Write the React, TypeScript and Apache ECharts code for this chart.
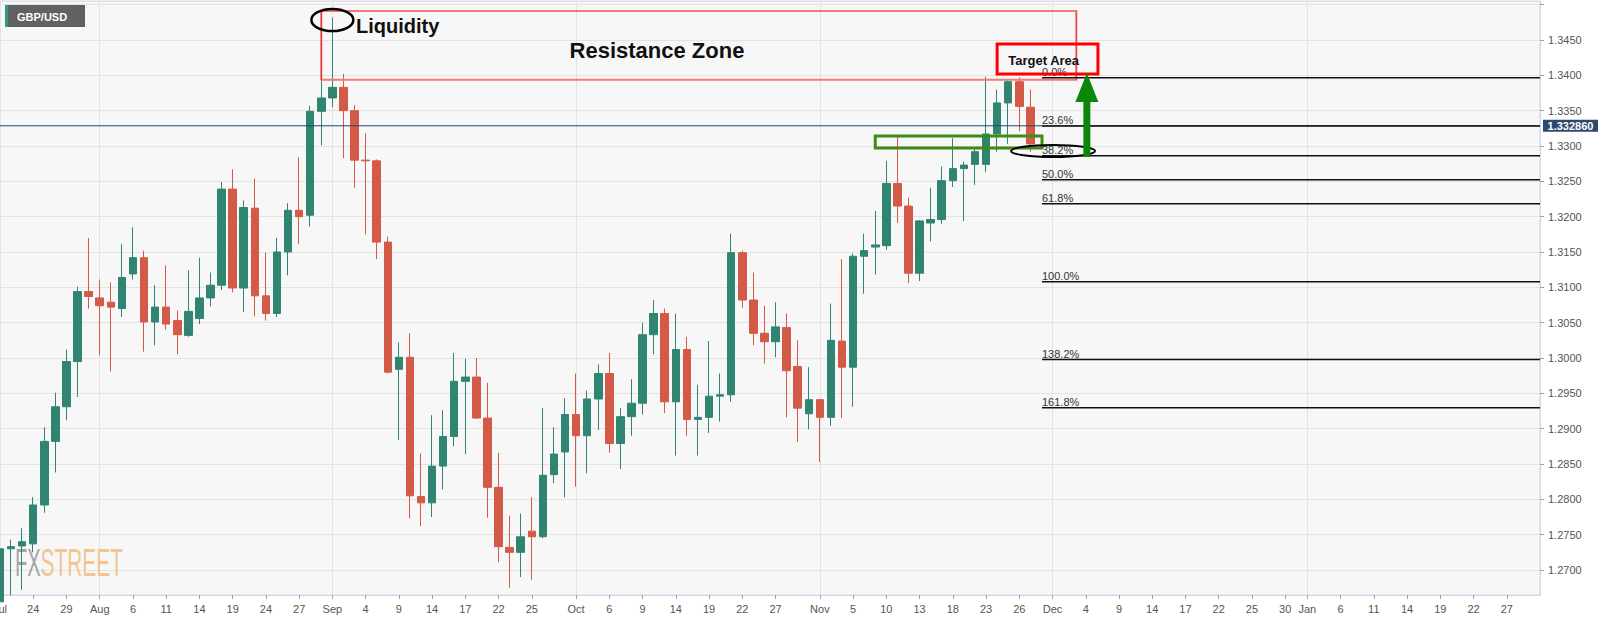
import React, { useEffect, useRef } from "react";
import * as echarts from "echarts";

// ---------- DATA ----------
const START_DATE = "2020-07-21";
const CATEGORY_COUNT = 140;

function businessDays(start: string, n: number): string[] {
  const out: string[] = [];
  const d = new Date(start + "T00:00:00Z");
  while (out.length < n) {
    const wd = d.getUTCDay();
    if (wd !== 0 && wd !== 6) out.push(d.toISOString().slice(0, 10));
    d.setUTCDate(d.getUTCDate() + 1);
  }
  return out;
}
const dates = businessDays(START_DATE, CATEGORY_COUNT);

// OHLC, Jul 21 .. Nov 27 2020 (94 daily candles)
const opens = [
  1.2655, 1.273, 1.2734, 1.2737, 1.2792, 1.2882, 1.2931, 1.2995, 1.3094, 1.3085,
  1.3079, 1.307, 1.3119, 1.3142, 1.3051, 1.3072, 1.3053, 1.3032, 1.3056, 1.3085,
  1.3103, 1.3239, 1.3099, 1.3212, 1.3088, 1.3063, 1.315, 1.3209, 1.3202, 1.3349,
  1.3368, 1.3383, 1.335, 1.328, 1.3279, 1.3164, 1.2984, 1.3001, 1.2804, 1.2795,
  1.2847, 1.2889, 1.2967, 1.2973, 1.2915, 1.2817, 1.2732, 1.2725, 1.2755, 1.2747,
  1.2835, 1.2867, 1.292, 1.289, 1.2942, 1.2978, 1.2879, 1.2917, 1.2936, 1.3033,
  1.3063, 1.2938, 1.3012, 1.2913, 1.2916, 1.2946, 1.2948, 1.3149, 1.3082, 1.3035,
  1.3023, 1.3043, 1.2988, 1.2921, 1.2941, 1.2916, 1.3024, 1.2987, 1.3144, 1.3157,
  1.3159, 1.3247, 1.3215, 1.312, 1.3191, 1.3196, 1.3251, 1.3268, 1.3274, 1.3274,
  1.3317, 1.3361, 1.3391, 1.3355,
];
const closes = [
  1.273, 1.2733, 1.274, 1.2792, 1.2882, 1.2931, 1.2995, 1.3094, 1.3087, 1.3074,
  1.3072, 1.3114, 1.3142, 1.3051, 1.3072, 1.3048, 1.3033, 1.3066, 1.3085, 1.3103,
  1.3239, 1.3099, 1.3213, 1.3088, 1.3063, 1.315, 1.3209, 1.32, 1.3349, 1.3368,
  1.3383, 1.335, 1.328, 1.3279, 1.3164, 1.298, 1.3001, 1.2805, 1.2795, 1.2847,
  1.2889, 1.2967, 1.2973, 1.2915, 1.2817, 1.2733, 1.2725, 1.2747, 1.2747, 1.2834,
  1.2864, 1.292, 1.289, 1.2942, 1.2978, 1.2879, 1.2917, 1.2936, 1.3033, 1.3063,
  1.2938, 1.3012, 1.2913, 1.2916, 1.2946, 1.2948, 1.3149, 1.3082, 1.3035, 1.3023,
  1.3044, 1.2982, 1.2929, 1.2941, 1.2916, 1.3025, 1.2987, 1.3144, 1.3152, 1.316,
  1.3247, 1.3215, 1.312, 1.3194, 1.3196, 1.3251, 1.3268, 1.3273, 1.3292, 1.3317,
  1.3361, 1.3391, 1.3356, 1.3303,
];
const lows = [
  1.264, 1.2664, 1.2672, 1.2725, 1.2781, 1.2838, 1.2912, 1.2945, 1.307, 1.3004,
  1.2981, 1.3058, 1.3111, 1.3009, 1.3018, 1.304, 1.3005, 1.303, 1.3048, 1.3073,
  1.3096, 1.3093, 1.3065, 1.3059, 1.3053, 1.3058, 1.3117, 1.3161, 1.3186, 1.3301,
  1.3355, 1.3283, 1.3241, 1.3175, 1.314, 1.2978, 1.2884, 1.2773, 1.2762, 1.2775,
  1.2814, 1.2875, 1.2864, 1.2914, 1.2774, 1.2711, 1.2675, 1.269, 1.2686, 1.2745,
  1.2823, 1.2803, 1.2818, 1.2837, 1.2898, 1.2866, 1.2843, 1.289, 1.292, 1.3005,
  1.2922, 1.2862, 1.289, 1.2862, 1.2894, 1.291, 1.2938, 1.3071, 1.3018, 1.2992,
  1.3001, 1.2916, 1.2881, 1.2899, 1.2853, 1.2904, 1.2915, 1.2931, 1.3091, 1.3118,
  1.3153, 1.3191, 1.3106, 1.3109, 1.3165, 1.319, 1.3242, 1.3194, 1.3245, 1.3263,
  1.3292, 1.3303, 1.3321, 1.3292,
];
const highs = [
  1.2767, 1.2743, 1.2759, 1.2803, 1.2902, 1.2951, 1.3012, 1.3101, 1.317, 1.3111,
  1.3107, 1.3161, 1.3185, 1.3152, 1.3103, 1.3131, 1.3067, 1.3124, 1.3142, 1.3121,
  1.3249, 1.3267, 1.3223, 1.3254, 1.3149, 1.317, 1.3219, 1.3284, 1.3357, 1.3393,
  1.3482, 1.3402, 1.3358, 1.3318, 1.3281, 1.3172, 1.3022, 1.3035, 1.2865, 1.2919,
  1.2926, 1.3007, 1.2999, 1.3, 1.2965, 1.2866, 1.2777, 1.278, 1.2803, 1.2929,
  1.2902, 1.2943, 1.2978, 1.2954, 1.2991, 1.3007, 1.2929, 1.297, 1.305, 1.3082,
  1.307, 1.3063, 1.303, 1.2962, 1.3024, 1.2978, 1.3176, 1.3152, 1.3121, 1.3074,
  1.3079, 1.3063, 1.3025, 1.2987, 1.2942, 1.3077, 1.314, 1.3148, 1.3176, 1.3208,
  1.3279, 1.3314, 1.3227, 1.3195, 1.3241, 1.3271, 1.3311, 1.3278, 1.3297, 1.3398,
  1.338, 1.3393, 1.3397, 1.338,
];

const tickDates = [
  "2020-07-21", "2020-07-24", "2020-07-29",
  "2020-08-03", "2020-08-06", "2020-08-11", "2020-08-14", "2020-08-19", "2020-08-24", "2020-08-27",
  "2020-09-01", "2020-09-04", "2020-09-09", "2020-09-14", "2020-09-17", "2020-09-22", "2020-09-25",
  "2020-10-01", "2020-10-06", "2020-10-09", "2020-10-14", "2020-10-19", "2020-10-22", "2020-10-27",
  "2020-11-02", "2020-11-05", "2020-11-10", "2020-11-13", "2020-11-18", "2020-11-23", "2020-11-26",
  "2020-12-01", "2020-12-04", "2020-12-09", "2020-12-14", "2020-12-17", "2020-12-22", "2020-12-25", "2020-12-30",
  "2021-01-01", "2021-01-06", "2021-01-11", "2021-01-14", "2021-01-19", "2021-01-22", "2021-01-27",
];
const monthLabelDates = ["2020-07-21", "2020-08-03", "2020-09-01", "2020-10-01", "2020-11-02", "2020-12-01", "2021-01-01"];
const monthLabelNames = ["Jul", "Aug", "Sep", "Oct", "Nov", "Dec", "Jan"];
const monthGridDates = ["2020-08-03", "2020-09-01", "2020-10-01", "2020-11-02", "2020-12-01", "2021-01-01"];

const LAST_PRICE = 1.33286;
const LAST_PRICE_LABEL = "1.332860";
const Y_MIN = 1.266462;
const Y_MAX = 1.350519;
const Y_LABEL_TOP = 1.345;

const FIB_HIGH = 1.33965;
const FIB_LOW = 1.3108;
const fibRatios = [0, 0.236, 0.382, 0.5, 0.618, 1, 1.382, 1.618];
const fibLabels = ["0.0%", "23.6%", "38.2%", "50.0%", "61.8%", "100.0%", "138.2%", "161.8%"];

// ---------- COMPONENT ----------
export default function App() {
  const ref = useRef<HTMLDivElement>(null);

  useEffect(() => {
    document.body.style.margin = "0";
    const el = ref.current!;
    const chart = echarts.init(el, null, { renderer: "svg" });

    const UP = "#2f8572";
    const DOWN = "#d45a48";
    const FONT = "'Liberation Sans', Arial, Helvetica, sans-serif";
    const tickSet = new Set(tickDates.map((d) => dates.indexOf(d)));
    const gridSet = new Set(monthGridDates.map((d) => dates.indexOf(d)));
    const monthMap = new Map(monthLabelDates.map((d, i) => [d, monthLabelNames[i]]));

    const ohlc = opens.map((o, i) => [o, closes[i], lows[i], highs[i]]);

    chart.setOption({
      animation: false,
      backgroundColor: "#ffffff",
      textStyle: { fontFamily: FONT },
      grid: {
        left: 0,
        right: 71,
        top: 1,
        bottom: 26,
        show: true,
        backgroundColor: "#f7f7f7",
        borderColor: "#d3d8e8",
        borderWidth: 1,
        containLabel: false,
        outerBoundsMode: "none",
      },
      xAxis: {
        type: "category",
        data: dates,
        boundaryGap: false,
        axisLine: { show: true, lineStyle: { color: "#d3d8e8", width: 1 } },
        axisTick: {
          show: true,
          length: 4,
          interval: (i: number) => tickSet.has(i),
          lineStyle: { color: "#9aa0b0" },
        },
        axisLabel: {
          show: true,
          interval: (i: number) => tickSet.has(i),
          formatter: (v: string) => monthMap.get(v) ?? String(Number(v.slice(8))),
          color: "#555",
          fontSize: 11,
          margin: 8,
          fontFamily: FONT,
        },
        splitLine: {
          show: true,
          interval: (i: number) => gridSet.has(i),
          lineStyle: { color: "#e3e3e3", width: 1 },
        },
      },
      yAxis: {
        type: "value",
        position: "right",
        min: Y_MIN,
        max: Y_MAX,
        splitNumber: 17,
        minInterval: 0.005,
        maxInterval: 0.005,
        scale: true,
        axisLine: { show: true, lineStyle: { color: "#d3d8e8" } },
        axisTick: { show: true, length: 4, lineStyle: { color: "#9aa0b0" } },
        axisLabel: {
          color: "#555",
          fontSize: 11,
          margin: 8,
          showMinLabel: false,
          showMaxLabel: false,
          formatter: (v: number) => (v > Y_LABEL_TOP + 0.001 ? "" : v.toFixed(4)),
          fontFamily: FONT,
        },
        splitLine: { show: true, lineStyle: { color: "#e3e3e3", width: 1 } },
      },
      series: [
        {
          type: "candlestick",
          data: ohlc,
          barWidth: 8,
          itemStyle: {
            color: UP,
            color0: DOWN,
            borderColor: UP,
            borderColor0: DOWN,
            borderWidth: 1,
          },
          emphasis: { disabled: true },
        },
      ],
    });

    const toPx = (xi: number, v: number): number[] => {
      const i0 = Math.floor(xi);
      const f = xi - i0;
      const a = chart.convertToPixel({ gridIndex: 0 }, [i0, v]) as number[];
      const b = chart.convertToPixel({ gridIndex: 0 }, [i0 + 1, v]) as number[];
      return [a[0] + (b[0] - a[0]) * f, a[1]];
    };

    const g: any[] = [];

    // watermark
    g.push({
      type: "text", x: 15, y: 562, scaleX: 0.53, z: 1,
      style: { text: "FX", fill: "#9a9a9a", fontSize: 38, fontFamily: FONT, align: "left", verticalAlign: "middle", opacity: 0.9 },
    });
    g.push({
      type: "text", x: 40.5, y: 562, scaleX: 0.55, z: 1,
      style: { text: "STREET", fill: "#f2c28c", fontSize: 38, fontFamily: FONT, align: "left", verticalAlign: "middle", opacity: 0.95 },
    });

    // symbol badge
    g.push({ type: "rect", shape: { x: 5, y: 5, width: 80, height: 22 }, style: { fill: "#616161" }, z: 10 });
    g.push({ type: "rect", shape: { x: 5, y: 5, width: 3, height: 22 }, style: { fill: "#2b9a82" }, z: 11 });
    g.push({
      type: "text", x: 17, y: 16.5, z: 11,
      style: { text: "GBP/USD", fill: "#ffffff", fontSize: 11, fontWeight: "bold", fontFamily: FONT, align: "left", verticalAlign: "middle" },
    });

    // current price line + label
    const lp0 = toPx(0, LAST_PRICE);
    const lp1 = toPx(CATEGORY_COUNT - 1, LAST_PRICE);
    g.push({ type: "line", z: 15, shape: { x1: lp0[0], y1: lp0[1], x2: lp1[0], y2: lp1[1] }, style: { stroke: "#23426e", lineWidth: 1 } });
    g.push({ type: "rect", z: 40, shape: { x: lp1[0] + 3, y: lp1[1] - 6, width: 55, height: 12 }, style: { fill: "#2c4a6f" } });
    g.push({
      type: "text", x: lp1[0] + 30.5, y: lp1[1], z: 41,
      style: { text: LAST_PRICE_LABEL, fill: "#ffffff", fontSize: 11, fontWeight: "bold", fontFamily: FONT, align: "center", verticalAlign: "middle" },
    });

    // resistance zone
    const r0 = toPx(29, 1.34912);
    const r1 = toPx(97.15, 1.33936);
    g.push({
      type: "rect", z: 20,
      shape: { x: r0[0], y: r0[1], width: r1[0] - r0[0], height: r1[1] - r0[1] },
      style: { fill: "none", stroke: "#f27a7a", lineWidth: 2 },
    });
    g.push({ type: "line", z: 21, shape: { x1: r0[0], y1: r0[1], x2: r0[0], y2: r1[1] }, style: { stroke: "#e02828", lineWidth: 1 } });
    g.push({ type: "line", z: 21, shape: { x1: r1[0], y1: r0[1], x2: r1[0], y2: r1[1] }, style: { stroke: "#e84040", lineWidth: 1 } });
    const rz = toPx(59.3, 1.3435);
    g.push({
      type: "text", x: rz[0], y: rz[1], z: 22,
      style: { text: "Resistance Zone", fill: "#111", fontSize: 22, fontWeight: "bold", fontFamily: FONT, align: "center", verticalAlign: "middle" },
    });

    // liquidity
    const lq = toPx(30, 1.34783);
    g.push({ type: "ellipse", z: 22, shape: { cx: lq[0], cy: lq[1], rx: 21, ry: 11 }, style: { fill: "none", stroke: "#000", lineWidth: 2.5 } });
    const lt = toPx(32.13, 1.34698);
    g.push({
      type: "text", x: lt[0], y: lt[1], z: 22,
      style: { text: "Liquidity", fill: "#111", fontSize: 20, fontWeight: "bold", fontFamily: FONT, align: "left", verticalAlign: "middle" },
    });

    // fibonacci levels
    const range = FIB_HIGH - FIB_LOW;
    fibRatios.forEach((r, i) => {
      const v = FIB_HIGH - r * range;
      const a = toPx(94.05, v);
      const b = toPx(CATEGORY_COUNT - 1, v);
      g.push({ type: "line", z: 23, shape: { x1: a[0], y1: a[1], x2: b[0], y2: b[1] }, style: { stroke: "#111", lineWidth: 1.5 } });
      g.push({
        type: "text", x: a[0], y: a[1] - 0.5, z: 23,
        style: { text: fibLabels[i], fill: "#333", fontSize: 11, fontFamily: FONT, align: "left", verticalAlign: "bottom" },
      });
    });

    // target area box
    const t0 = toPx(90.0, 1.34443);
    const t1 = toPx(99.1, 1.34019);
    g.push({
      type: "rect", z: 30,
      shape: { x: t0[0], y: t0[1], width: t1[0] - t0[0], height: t1[1] - t0[1] },
      style: { fill: "none", stroke: "#ff0000", lineWidth: 3 },
    });
    const tt = toPx(94.2, 1.34203);
    g.push({
      type: "text", x: tt[0], y: tt[1], z: 31,
      style: { text: "Target Area", fill: "#111", fontSize: 13, fontWeight: "bold", fontFamily: FONT, align: "center", verticalAlign: "middle" },
    });

    // green breakout box
    const gb0 = toPx(79.0, 1.33142);
    const gb1 = toPx(94.05, 1.32972);
    g.push({
      type: "rect", z: 30,
      shape: { x: gb0[0], y: gb0[1], width: gb1[0] - gb0[0], height: gb1[1] - gb0[1] },
      style: { fill: "none", stroke: "#3f8c14", lineWidth: 3 },
    });

    // ellipse at 38.2%
    const el38 = toPx(95.05, 1.32929);
    g.push({ type: "ellipse", z: 30, shape: { cx: el38[0], cy: el38[1], rx: 42, ry: 6 }, style: { fill: "none", stroke: "#000", lineWidth: 2 } });

    // green arrow
    const aBot = toPx(98.1, 1.32844);
    const aBase = toPx(98.1, 1.33623);
    const aTip = toPx(98.1, 1.34033);
    g.push({
      type: "rect", z: 32,
      shape: { x: aBot[0] - 3.5, y: aBase[1], width: 7, height: aBot[1] - aBase[1] },
      style: { fill: "#0a870a" },
    });
    g.push({
      type: "polygon", z: 32,
      shape: { points: [[aBase[0] - 11.5, aBase[1]], [aBase[0] + 11.5, aBase[1]], [aTip[0], aTip[1]]] },
      style: { fill: "#0a870a" },
    });

    chart.setOption({ graphic: g });

    return () => chart.dispose();
  }, []);

  return (
    <div
      ref={ref}
      style={{ position: "absolute", left: 0, top: 0, width: 1611, height: 621 }}
    />
  );
}
